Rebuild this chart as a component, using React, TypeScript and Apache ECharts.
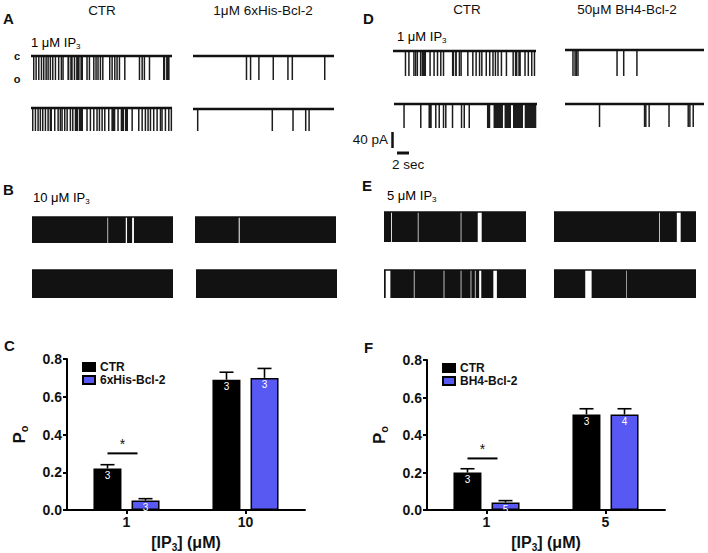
import React, { useEffect, useRef } from "react";
import * as echarts from "echarts";

// ---------- DATA ----------
// Single-channel traces: opening events as [start, end] in % of trace duration
const A1_CTR = [[1.4,1.9],[3.1,3.6],[5.0,5.5],[6.9,7.4],[8.5,9.0],[10.2,10.7],[11.6,12.1],[13.2,13.7],[14.9,15.4],[16.8,17.3],[19.1,19.6],[21.0,21.5],[22.2,22.7],[25.8,27.2],[27.8,29.6],[30.3,31.4],[32.0,34.5],[35.0,36.9],[39.2,39.7],[40.9,41.4],[44.0,44.5],[45.6,46.1],[47.0,47.5],[48.7,49.2],[50.4,50.9],[55.3,55.8],[57.0,57.5],[58.9,59.4],[60.5,61.0],[62.2,62.7],[66.0,66.5],[76.4,76.9],[78.3,78.8],[79.9,80.4],[83.5,84.0],[93.6,95.2],[95.8,98.3]];
const A2_CTR = [[0.7,1.2],[2.6,3.1],[4.5,5.0],[6.1,6.6],[7.8,8.3],[9.7,10.2],[11.6,12.1],[13.2,14.9],[16.3,16.8],[18.7,19.2],[20.3,20.8],[21.5,22.0],[23.4,23.9],[25.1,25.6],[27.4,27.9],[29.1,29.6],[31.0,33.5],[34.0,36.9],[39.2,39.7],[41.6,42.1],[44.0,44.5],[46.3,46.8],[48.0,48.5],[49.9,50.4],[51.8,52.3],[54.6,55.1],[57.0,59.8],[61.2,61.7],[63.6,66.0],[66.6,68.8],[71.2,71.7],[75.9,76.4],[78.3,78.8],[80.6,81.1],[82.5,83.0],[84.2,84.7],[86.5,87.0],[88.9,89.4],[91.3,91.8],[92.4,92.9],[94.8,95.3],[97.2,97.7],[99.0,99.5]];
const A1_BCL = [[37.4,37.8],[40.3,40.7],[46.2,46.6],[56.4,56.8],[66.8,67.2],[69.9,70.3],[92.9,93.3]];
const A2_BCL = [[2.8,3.2],[55.7,56.1],[70.4,70.8],[79.4,79.8],[81.8,82.2]];
const D1_CTR = [[8.2,8.7],[10.6,11.1],[14.1,14.6],[15.3,15.8],[16.5,17.0],[18.8,19.3],[20.0,23.1],[25.4,25.9],[28.2,28.7],[30.6,31.1],[32.9,33.4],[34.8,35.3],[41.2,42.8],[43.4,44.7],[45.9,46.4],[47.1,47.6],[51.8,52.3],[55.3,55.8],[57.6,58.1],[60.0,60.5],[61.6,62.1],[64.7,65.2],[67.1,67.6],[69.4,69.9],[71.1,71.6],[72.9,73.4],[75.3,75.8],[78.8,79.3],[83.5,84.0],[85.2,87.0],[87.6,89.4],[91.8,92.3],[94.1,94.6],[96.5,97.0],[98.4,98.9]];
const D2_CTR = [[6.5,7.0],[18.2,18.7],[24.1,26.4],[28.7,29.2],[31.1,31.6],[34.1,34.6],[35.7,36.2],[40.4,40.9],[46.7,47.2],[48.6,49.1],[52.1,52.6],[65.0,67.3],[69.6,76.2],[77.3,81.8],[83.2,90.2],[91.4,99.5]];
const D1_BH4 = [[5.2,5.6],[6.7,7.1],[7.6,8.0],[8.8,9.2],[36.9,37.3],[41.7,42.1],[51.2,51.6]];
const D2_BH4 = [[24.3,24.7],[56.7,57.1],[57.6,58.0],[60.0,60.4],[74.3,74.7],[88.1,88.5],[89.3,89.7],[91.7,92.1]];
// High-activity traces: closure gaps as [start, end] in % of trace duration
const B1_CTR_GAPS = [[53.5,54.0],[66.5,67.4],[71.0,72.3]];
const B1_BCL_GAPS = [[31.0,31.7]];
const B2_CTR_GAPS: number[][] = [];
const B2_BCL_GAPS: number[][] = [];
const E1_CTR_GAPS = [[5.0,5.6],[23.8,24.3],[54.0,54.5],[66.0,68.8]];
const E1_BH4_GAPS = [[74.0,74.5],[86.5,89.2]];
const E2_CTR_GAPS = [[1.2,4.5],[21.0,21.5],[42.0,42.5],[54.0,54.5],[61.0,61.5],[64.0,64.5],[67.0,68.5],[77.0,79.5]];
const E2_BH4_GAPS = [[22.0,26.5],[51.0,51.4]];

// Bar charts
const C_CATS = ["1", "10"];
const C_CTR = [0.22, 0.69];
const C_CTR_ERR = [0.02, 0.04];
const C_CTR_N = [3, 3];
const C_BCL = [0.05, 0.70];
const C_BCL_ERR = [0.01, 0.05];
const C_BCL_N = [3, 3];
const C_SIG = [[0, 0.30]];
const F_CATS = ["1", "5"];
const F_CTR = [0.20, 0.51];
const F_CTR_ERR = [0.02, 0.03];
const F_CTR_N = [3, 3];
const F_BH4 = [0.04, 0.51];
const F_BH4_ERR = [0.01, 0.03];
const F_BH4_N = [5, 4];
const F_SIG = [[0, 0.275]];
const Y_TICKS = [0, 0.2, 0.4, 0.6, 0.8];

// ---------- LAYOUT ----------
const FF = "Liberation Sans, Arial, Helvetica, sans-serif";
const BLUE = "#5858f2";
const spikeTraces = [
  { ev: A1_CTR, x0: 31, x1: 172, yc: 56, yo: 80 },
  { ev: A1_BCL, x0: 193, x1: 334, yc: 56, yo: 80 },
  { ev: A2_CTR, x0: 31, x1: 172, yc: 108, yo: 131 },
  { ev: A2_BCL, x0: 193, x1: 334, yc: 109, yo: 131 },
  { ev: D1_CTR, x0: 393, x1: 536, yc: 51, yo: 76 },
  { ev: D1_BH4, x0: 565, x1: 704, yc: 50, yo: 76 },
  { ev: D2_CTR, x0: 394, x1: 537, yc: 104, yo: 128 },
  { ev: D2_BH4, x0: 565, x1: 704, yc: 104, yo: 127 },
];
const denseTraces = [
  { gaps: B1_CTR_GAPS, x0: 32, x1: 173, yc: 217, yo: 243 },
  { gaps: B1_BCL_GAPS, x0: 195, x1: 336, yc: 217, yo: 243 },
  { gaps: B2_CTR_GAPS, x0: 32, x1: 173, yc: 270, yo: 298 },
  { gaps: B2_BCL_GAPS, x0: 196, x1: 337, yc: 270, yo: 298 },
  { gaps: E1_CTR_GAPS, x0: 384, x1: 526, yc: 212, yo: 242 },
  { gaps: E1_BH4_GAPS, x0: 554, x1: 696, yc: 212, yo: 242 },
  { gaps: E2_CTR_GAPS, x0: 384, x1: 526, yc: 270, yo: 298 },
  { gaps: E2_BH4_GAPS, x0: 554, x1: 696, yc: 270, yo: 298 },
];

function segmentsFromGaps(gaps: number[][]) {
  const segs: number[][] = [];
  let cur = 0;
  [...gaps].sort((a, b) => a[0] - b[0]).forEach((g) => {
    if (g[0] > cur) segs.push([cur, g[0]]);
    cur = Math.max(cur, g[1]);
  });
  if (cur < 100) segs.push([cur, 100]);
  return segs;
}

function rectItem(api: any, color: string, minW: number) {
  const s = api.value(0), e = api.value(1);
  const p0 = api.coord([s, 0]);
  const p1 = api.coord([e, -1]);
  return {
    type: "rect",
    shape: { x: p0[0], y: p0[1], width: Math.max(p1[0] - p0[0], minW), height: p1[1] - p0[1] },
    style: { fill: color },
  };
}

const richSub = (size: number, weight: string) => ({
  n: { fontSize: size, fontWeight: weight, fontFamily: FF, lineHeight: size + 3, color: "#111" },
  sub: { fontSize: Math.round(size * 0.62), fontWeight: weight, fontFamily: FF, lineHeight: Math.round(size * 0.62), verticalAlign: "bottom", color: "#111" },
});

function txt(text: string, x: number, y: number, size: number, weight = "normal", align = "left") {
  return {
    type: "text", x, y, silent: true,
    style: { text, fontSize: size, fontWeight: weight, fontFamily: FF, fill: "#111", align, verticalAlign: "middle" },
  };
}
function subTxt(main: string, sub: string, x: number, y: number, size: number) {
  return {
    type: "text", x, y, silent: true,
    style: { text: `{n|${main}}{sub|${sub}}`, rich: richSub(size, "normal"), align: "left", verticalAlign: "middle" },
  };
}

export default function App() {
  const ref = useRef<HTMLDivElement>(null);
  useEffect(() => {
    if (!ref.current) return;
    const chart = echarts.init(ref.current, null, { renderer: "svg" });
    const grid: any[] = [];
    const xAxis: any[] = [];
    const yAxis: any[] = [];
    const series: any[] = [];

    const addTraceGrid = (t: any) => {
      const idx = grid.length;
      grid.push({ left: t.x0, top: t.yc, width: t.x1 - t.x0, height: t.yo - t.yc });
      xAxis.push({ gridIndex: idx, type: "value", min: 0, max: 100, show: false });
      yAxis.push({ gridIndex: idx, type: "value", min: -1, max: 0, show: false });
      return idx;
    };

    spikeTraces.forEach((t) => {
      const idx = addTraceGrid(t);
      series.push({
        type: "line", xAxisIndex: idx, yAxisIndex: idx, data: [[0, 0], [100, 0]],
        symbol: "none", clip: false, silent: true,
        lineStyle: { color: "#111", width: 2.4 },
      });
      series.push({
        type: "custom", xAxisIndex: idx, yAxisIndex: idx, data: t.ev, clip: false, silent: true,
        encode: { x: [0, 1] },
        renderItem: (_p: any, api: any) => rectItem(api, "#1c1c1c", 1.5),
      });
    });

    denseTraces.forEach((t) => {
      const idx = addTraceGrid(t);
      series.push({
        type: "line", xAxisIndex: idx, yAxisIndex: idx, data: [[0, 0], [100, 0]],
        symbol: "none", clip: false, silent: true,
        lineStyle: { color: "#111", width: 1.5 },
      });
      series.push({
        type: "custom", xAxisIndex: idx, yAxisIndex: idx, data: segmentsFromGaps(t.gaps), clip: false, silent: true,
        encode: { x: [0, 1] },
        renderItem: (_p: any, api: any) => rectItem(api, "#121212", 0.5),
      });
    });

    const barAxisStyle = {
      axisLine: { show: true, lineStyle: { color: "#000", width: 2 } },
      axisTick: { show: true, length: 4, lineStyle: { color: "#000", width: 2 } },
      splitLine: { show: false },
    };

    const addBarChart = (o: any) => {
      const idx = grid.length;
      grid.push({ left: o.left, top: o.top, width: 238, height: 157 });
      xAxis.push({
        gridIndex: idx, type: "category", data: o.cats, ...barAxisStyle,
        axisTick: { show: true, alignWithLabel: true, length: 4, lineStyle: { color: "#000", width: 2 } },
        axisLabel: { color: "#111", fontWeight: "bold", fontSize: 14, fontFamily: FF, margin: 5 },
        name: "{n|[IP}{sub|3}{n|] (μM)}", nameLocation: "middle", nameGap: 23,
        nameTextStyle: { rich: richSub(16, "bold") },
      });
      yAxis.push({
        gridIndex: idx, type: "value", min: Y_TICKS[0], max: Y_TICKS[Y_TICKS.length - 1], interval: Y_TICKS[1] - Y_TICKS[0],
        ...barAxisStyle,
        axisLabel: { color: "#111", fontWeight: "bold", fontSize: 14, fontFamily: FF, margin: 5, formatter: (v: number) => v.toFixed(1) },
        name: "{n|P}{sub|o}", nameLocation: "middle", nameGap: 38, nameRotate: 90,
        nameTextStyle: { rich: richSub(17, "bold") },
      });
      const lab = (ns: number[]) => ({
        show: true, position: "insideTop", distance: 2, color: "#fff", fontSize: 10, fontFamily: FF,
        formatter: (p: any) => String(ns[p.dataIndex]),
      });
      series.push({
        type: "bar", name: o.n1, xAxisIndex: idx, yAxisIndex: idx, data: o.v1, barWidth: 28,
        itemStyle: { color: "#000", borderColor: "#000", borderWidth: 1.5 }, label: lab(o.n1n), silent: true,
      });
      series.push({
        type: "bar", name: o.n2, xAxisIndex: idx, yAxisIndex: idx, data: o.v2, barWidth: 28, barGap: "36%",
        itemStyle: { color: BLUE, borderColor: "#000", borderWidth: 1.5 }, label: lab(o.n2n), silent: true,
      });
      const errData: number[][] = [];
      o.v1.forEach((v: number, i: number) => errData.push([i, v, o.e1[i], -1]));
      o.v2.forEach((v: number, i: number) => errData.push([i, v, o.e2[i], 1]));
      series.push({
        type: "custom", xAxisIndex: idx, yAxisIndex: idx, data: errData, silent: true, z: 3, clip: false,
        renderItem: (_p: any, api: any) => {
          const base = api.coord([api.value(0), api.value(1)]);
          const top = api.coord([api.value(0), api.value(1) + api.value(2)]);
          const x = base[0] + api.value(3) * 19;
          const st = { stroke: "#000", lineWidth: 1.6 };
          return {
            type: "group",
            children: [
              { type: "line", shape: { x1: x, y1: base[1], x2: x, y2: top[1] }, style: st },
              { type: "line", shape: { x1: x - 7, y1: top[1], x2: x + 7, y2: top[1] }, style: st },
            ],
          };
        },
      });
      series.push({
        type: "custom", xAxisIndex: idx, yAxisIndex: idx, data: o.sig, silent: true, z: 3, clip: false,
        renderItem: (_p: any, api: any) => {
          const c = api.coord([api.value(0), api.value(1)]);
          const x = c[0] - 4;
          return {
            type: "group",
            children: [
              { type: "line", shape: { x1: x - 15, y1: c[1], x2: x + 15, y2: c[1] }, style: { stroke: "#000", lineWidth: 2 } },
              { type: "text", x, y: c[1] - 2, style: { text: "*", fontSize: 14, fontFamily: FF, fill: "#111", align: "center", verticalAlign: "bottom" } },
            ],
          };
        },
      });
    };

    addBarChart({ left: 67, top: 359, cats: C_CATS, n1: "CTR", n2: "6xHis-Bcl-2", v1: C_CTR, v2: C_BCL, e1: C_CTR_ERR, e2: C_BCL_ERR, n1n: C_CTR_N, n2n: C_BCL_N, sig: C_SIG });
    addBarChart({ left: 427, top: 360, cats: F_CATS, n1: "CTR", n2: "BH4-Bcl-2", v1: F_CTR, v2: F_BH4, e1: F_CTR_ERR, e2: F_BH4_ERR, n1n: F_CTR_N, n2n: F_BH4_N, sig: F_SIG });

    const legendBase = {
      orient: "vertical", itemWidth: 12, itemHeight: 8, itemGap: 1, icon: "rect",
      textStyle: { fontSize: 12, fontWeight: "bold", fontFamily: FF, color: "#111" },
      selectedMode: false,
    };

    const graphic: any[] = [
      txt("A", 3, 18, 15, "bold"),
      txt("CTR", 102, 10, 13.5, "normal", "center"),
      txt("1μM 6xHis-Bcl-2", 263, 10, 13.5, "normal", "center"),
      subTxt("1 μM IP", "3", 31, 42, 13),
      txt("c", 17, 56, 11, "bold", "center"),
      txt("o", 17, 79, 11, "bold", "center"),
      txt("B", 3, 189, 15, "bold"),
      subTxt("10 μM IP", "3", 33, 197, 13),
      txt("C", 4, 345, 15, "bold"),
      txt("D", 363, 18, 15, "bold"),
      txt("CTR", 467, 9, 13.5, "normal", "center"),
      txt("50μM BH4-Bcl-2", 627, 9, 13.5, "normal", "center"),
      subTxt("1 μM IP", "3", 397, 36, 13),
      txt("40 pA", 388, 139, 13.5, "normal", "right"),
      txt("2 sec", 392, 164, 13.5, "normal", "left"),
      txt("E", 362, 185, 15, "bold"),
      subTxt("5 μM IP", "3", 387, 195, 13),
      txt("F", 364, 347, 15, "bold"),
      { type: "line", silent: true, shape: { x1: 392.5, y1: 132, x2: 392.5, y2: 148 }, style: { stroke: "#111", lineWidth: 2.5 } },
      { type: "line", silent: true, shape: { x1: 397, y1: 153, x2: 409, y2: 153 }, style: { stroke: "#111", lineWidth: 3 } },
    ];

    chart.setOption({
      animation: false,
      backgroundColor: "#fff",
      grid, xAxis, yAxis, series, graphic,
      legend: [
        { ...legendBase, left: 77, top: 356, data: ["CTR", "6xHis-Bcl-2"] },
        { ...legendBase, left: 437, top: 357, data: ["CTR", "BH4-Bcl-2"] },
      ],
    });
    return () => chart.dispose();
  }, []);
  return <div ref={ref} style={{ position: "absolute", left: 0, top: 0, width: 708, height: 553, background: "#fff" }} />;
}
